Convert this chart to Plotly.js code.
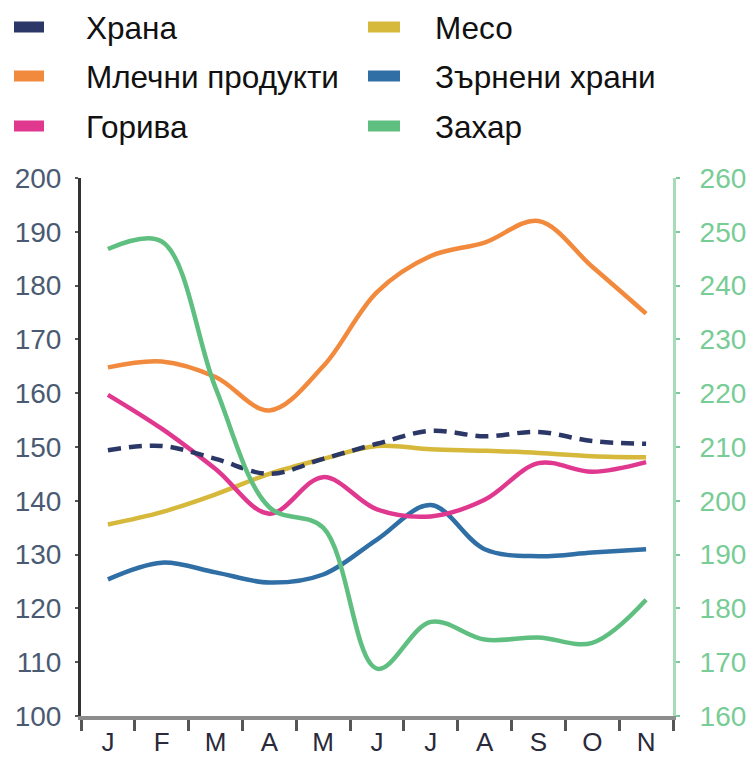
<!DOCTYPE html>
<html>
<head>
<meta charset="utf-8">
<script src="https://cdn.plot.ly/plotly-3.0.1.min.js"></script>
<style>html,body{margin:0;padding:0;background:#fff;}#chart{width:750px;height:760px;}</style>
</head>
<body>
<div id="chart"></div>
<script>
const months = ["J", "F", "M", "A", "M", "J", "J", "A", "S", "O", "N"];
const monthIdx = [0, 1, 2, 3, 4, 5, 6, 7, 8, 9, 10];
const hrana = [149.4, 150.2, 147.8, 145.0, 147.8, 150.6, 153.0, 152.0, 152.8, 151.1, 150.6];
const meso = [135.6, 137.9, 141.2, 145.0, 147.8, 150.2, 149.6, 149.3, 148.9, 148.3, 148.1];
const mlechni = [164.8, 165.9, 163.0, 156.8, 165.0, 178.8, 185.5, 188.0, 192.0, 183.5, 174.8];
const zarneni = [125.4, 128.5, 126.7, 124.8, 126.3, 132.8, 139.2, 131.0, 129.7, 130.4, 131.0];
const goriva = [159.7, 153.4, 145.9, 137.6, 144.4, 138.4, 137.1, 140.2, 147.0, 145.4, 147.2];
const zahar = [246.8, 248.2, 221.0, 198.8, 195.0, 168.8, 177.5, 174.2, 174.6, 173.6, 181.6];

const names = ["Храна", "Месо", "Млечни продукти", "Зърнени храни", "Горива", "Захар"];
const colors = ["#2b3766", "#d6b83a", "#f28a3e", "#2f6fa5", "#e0378f", "#5fbf80"];

const FONT = "'Liberation Sans', Arial, sans-serif";

function tr(y, i, axis, dash) {
  return {
    x: monthIdx, y: y, type: "scatter", mode: "lines", name: names[i],
    yaxis: axis, showlegend: false,
    line: {color: colors[i], width: 4.5, shape: "spline", smoothing: 1.0, dash: dash || "solid"},
    hoverinfo: "skip"
  };
}

const data = [
  tr(zahar, 5, "y2"),
  tr(meso, 1, "y"),
  tr(zarneni, 3, "y"),
  tr(goriva, 4, "y"),
  tr(mlechni, 2, "y"),
  tr(hrana, 0, "y", "13px,8px")
];

// legend (manual, pixel -> paper conversion)
const L = 81, R = 673, T = 178, B = 716;
const px = v => (v - L) / (R - L);
const py = v => (B - v) / (B - T);
const legendRows = [27, 76, 126];
const shapes = [], annotations = [];
const cols = [{sx0: 14, sx1: 44, tx: 84}, {sx0: 368, sx1: 400, tx: 433}];
const order = [[0, 2, 4], [1, 3, 5]];
order.forEach((col, c) => {
  col.forEach((ti, r) => {
    const yy = legendRows[r];
    shapes.push({type: "line", xref: "paper", yref: "paper",
      x0: px(cols[c].sx0), x1: px(cols[c].sx1), y0: py(yy), y1: py(yy),
      line: {color: colors[ti], width: 11, dash: "solid"}});
    annotations.push({xref: "paper", yref: "paper", x: px(cols[c].tx), y: py(yy + 1),
      xanchor: "left", yanchor: "middle", showarrow: false, text: names[ti],
      font: {family: FONT, size: 31.5, color: "#111"}});
  });
});

const layout = {
  width: 750, height: 760,
  margin: {l: L, r: 750 - R, t: T, b: 760 - B, pad: 0},
  paper_bgcolor: "#fff", plot_bgcolor: "#fff",
  showlegend: false,
  xaxis: {
    range: [-0.5, 10.5], tickmode: "array", tickvals: monthIdx, ticktext: months,
    ticks: "", showgrid: false, zeroline: false,
    showline: true, linecolor: "#8c8c8c", linewidth: 4,
    tickfont: {family: FONT, size: 26, color: "#2a2a3a"},
    ticklabelstandoff: 0,
    minor: {tickmode: "linear", tick0: -0.5, dtick: 1, ticks: "outside", ticklen: 11, tickwidth: 3, tickcolor: "#555", showgrid: false}
  },
  yaxis: {
    range: [100, 200], dtick: 10, tick0: 100, showgrid: false, zeroline: false,
    showline: true, linecolor: "#333", linewidth: 3,
    ticks: "outside", ticklen: 3, tickwidth: 2, tickcolor: "#555",
    tickfont: {family: FONT, size: 28, color: "#4a5a72"},
    ticklabelstandoff: 8
  },
  yaxis2: {
    range: [160, 260], dtick: 10, tick0: 160, overlaying: "y", side: "right",
    showgrid: false, zeroline: false,
    showline: true, linecolor: "#a8dcb8", linewidth: 3,
    ticks: "outside", ticklen: 4, tickwidth: 2, tickcolor: "#7cc896",
    tickfont: {family: FONT, size: 28, color: "#78cc96"},
    ticklabelstandoff: 14
  },
  shapes: shapes,
  annotations: annotations
};

Plotly.newPlot("chart", data, layout, {displayModeBar: false, staticPlot: true});
</script>
</body>
</html>
